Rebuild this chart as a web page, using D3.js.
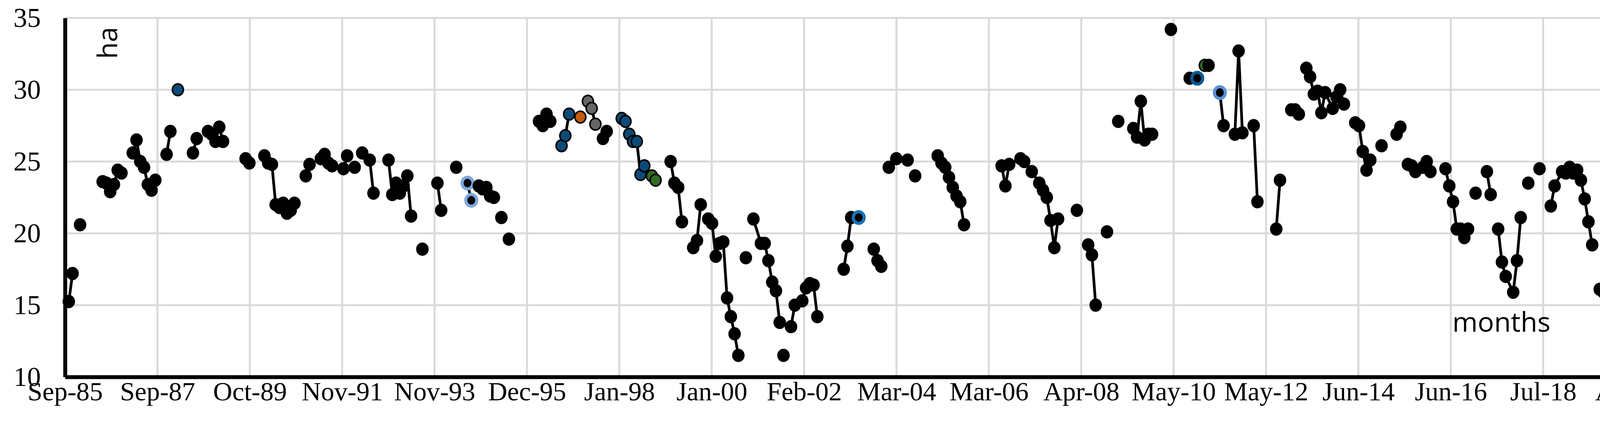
<!DOCTYPE html>
<html><head><meta charset="utf-8">
<script src="https://cdn.jsdelivr.net/npm/d3@7"></script>
<style>html,body{margin:0;padding:0;background:#fff;overflow:hidden;width:4306px;height:1102px}svg{display:block}</style></head>
<body><svg id="c" width="4306" height="1102"></svg>
<script>
const tickLabels=["Sep-85","Sep-87","Oct-89","Nov-91","Nov-93","Dec-95","Jan-98","Jan-00","Feb-02","Mar-04","Mar-06","Apr-08","May-10","May-12","Jun-14","Jun-16","Jul-18","Aug-20"];
const tickMonths=[0,24.56,49.12,73.68,98.24,122.8,147.36,171.92,196.48,221.04,245.6,270.16,294.72,319.28,343.84,368.4,392.96,417.52];
const yTicks=[10,15,20,25,30,35];
// month index since Sep-85
const months=[1,2,4,10,11,12,13,14,15,18,19,20,21,22,23,24,27,28,30,34,35,38,39,40,41,42,48,49,
53,54,55,56,57,58,59,60,61,64,65,68,69,70,71,74,75,77,79,81,82,86,87,88,89,90,91,92,95,99,100,104,107,108,
110,111,112,113,114,116,118,126,127,128,129,132,133,134,137,139,140,141,143,144,148,149,150,151,152,153,154,156,157,
161,162,163,164,167,168,169,171,172,173,174,175,176,177,178,179,181,183,185,186,187,188,189,190,191,
193,194,196,197,198,199,200,207,208,209,211,215,216,217,219,221,224,226,
232,233,234,235,236,237,238,239,249,250,251,254,255,257,259,260,261,262,263,264,269,272,273,274,277,280,
284,285,286,287,288,289,294,299,301,303,304,307,308,311,312,313,316,317,322,323,326,327,328,
330,331,332,333,334,335,337,338,339,340,343,344,345,346,347,350,354,355,357,358,359,361,362,363,
367,368,369,370,371,372,373,375,378,379,381,382,383,385,386,387,389,392,
395,396,398,399,400,401,402,403,404,405,406,408,409,410,411,412,413,414,415,416,417];
const values=[15.25,17.2,20.6,23.6,23.5,22.9,23.4,24.4,24.2,25.6,26.5,25.0,24.6,23.4,23.0,23.7,25.5,27.1,30.0,25.6,26.6,27.1,26.9,26.4,27.4,26.4,25.2,24.9,
25.4,24.9,24.8,22.0,21.8,22.1,21.4,21.6,22.1,24.0,24.8,25.2,25.5,24.9,24.7,24.5,25.4,24.6,25.6,25.1,22.8,25.1,22.7,23.5,22.8,23.3,24.0,21.2,18.9,23.5,21.6,24.6,23.5,22.3,
23.3,23.1,23.2,22.6,22.5,21.1,19.6,27.8,27.5,28.3,27.8,26.1,26.8,28.3,28.1,29.2,28.7,27.6,26.6,27.1,28.0,27.8,26.9,26.4,26.4,24.1,24.7,24.0,23.7,
25.0,23.5,23.2,20.8,19.0,19.5,22.0,21.0,20.7,18.4,19.3,19.4,15.5,14.2,13.0,11.5,18.3,21.0,19.3,19.3,18.1,16.6,16.0,13.8,11.5,
13.5,15.0,15.3,16.2,16.5,16.4,14.2,17.5,19.1,21.1,21.1,18.9,18.1,17.7,24.6,25.2,25.1,24.0,
25.4,24.9,24.6,23.9,23.2,22.6,22.2,20.6,24.7,23.3,24.8,25.2,25.0,24.3,23.5,23.0,22.5,20.9,19.0,21.0,21.6,19.2,18.5,15.0,20.1,27.8,
27.3,26.7,29.2,26.5,26.9,26.9,34.2,30.8,30.8,31.7,31.7,29.8,27.5,26.9,32.7,27.0,27.5,22.2,20.3,23.7,28.6,28.6,28.3,
31.5,30.9,29.7,29.9,28.4,29.8,28.7,29.5,30.0,29.0,27.7,27.5,25.7,24.4,25.1,26.1,26.9,27.4,24.8,24.7,24.3,24.6,25.0,24.3,
24.5,23.3,22.2,20.3,20.3,19.7,20.3,22.8,24.3,22.7,20.3,18.0,17.0,15.9,18.1,21.1,23.5,24.5,
21.9,23.3,24.3,24.2,24.6,24.2,24.4,23.7,22.4,20.8,19.2,16.1,15.9,19.2,19.7,16.8,18.4,17.7,17.7,13.3,11.6];
// months where a new line segment begins even though a point precedes it
const lineBreaks=[4,10,18,27,30,34,38,48,53,64,68,74,77,79,81,86,95,99,104,107,110,116,118,126,132,137,139,143,148,156,
161,167,171,181,183,191,193,207,211,215,219,221,224,226,232,249,269,272,277,280,284,294,299,301,303,307,311,316,322,326,330,343,350,354,357,367,375,378,381,389,392,395,408];
const specialMonths=[30,132,133,134,137,139,140,141,148,149,150,151,152,153,154,156,157,107,108,211,301,303,307];
const specialFill=["#0b4a78","#0b4a78","#0b4a78","#0b4a78","#c55a11","#666666","#666666","#666666","#0b4a78","#0b4a78","#0b4a78","#0b4a78","#0b4a78","#0b4a78","#0b4a78","#2f6b23","#2f6b23","#000","#000","#000","#000","#2f6b23","#000"];
const specialStroke=["#000","#000","#000","#000","#000","#000","#000","#000","#000","#000","#000","#000","#000","#000","#000","#000","#000","#7fa8dc","#7fa8dc","#1a73b8","#0b5a91","#000","#5b8fd6"];

const svg=d3.select("#c");
const x=d3.scaleLinear().domain([0,422.3]).range([166.5,4233]);
const y=d3.scaleLinear().domain([10,35]).range([966,46]);
svg.append("g").selectAll("line").data(yTicks.filter(v=>v>10)).join("line")
 .attr("x1",x(0)).attr("x2",x(422.3)).attr("y1",d=>y(d)).attr("y2",d=>y(d)).attr("stroke","#d9d9d9").attr("stroke-width",5);
svg.append("g").selectAll("line").data(tickMonths.slice(1)).join("line")
 .attr("x1",d=>x(d)).attr("x2",d=>x(d)).attr("y1",y(35)).attr("y2",y(10)).attr("stroke","#d9d9d9").attr("stroke-width",5);
const xa=svg.append("g").attr("transform",`translate(0,${y(10)})`).call(d3.axisBottom(x).tickValues(tickMonths).tickFormat((d,i)=>tickLabels[i]).tickSize(0).tickPadding(50));
xa.select(".domain").attr("stroke","#000").attr("stroke-width",10);
xa.selectAll("text").attr("font-family","Liberation Serif").attr("font-size",68).attr("fill","#000").attr("dy","0.15em");
const ya=svg.append("g").attr("transform",`translate(${x(0)},0)`).call(d3.axisLeft(y).tickValues(yTicks).tickSize(0).tickPadding(62));
ya.select(".domain").attr("stroke","#000").attr("stroke-width",10);
ya.selectAll("text").attr("font-family","Liberation Serif").attr("font-size",70).attr("fill","#000");
const pts=months.map((m,i)=>({m,v:values[i]}));
const segs=[];let cur=[];
pts.forEach(p=>{ if(cur.length && lineBreaks.includes(p.m)){segs.push(cur);cur=[];} cur.push(p);});
segs.push(cur);
const line=d3.line().x(d=>x(d.m)).y(d=>y(d.v));
svg.append("g").selectAll("path").data(segs.filter(s=>s.length>1)).join("path")
 .attr("d",line).attr("fill","none").attr("stroke","#000").attr("stroke-width",7);
svg.append("g").selectAll("ellipse").data(pts).join("ellipse")
 .attr("cx",d=>x(d.m)).attr("cy",d=>y(d.v)).attr("rx",14).attr("ry",15)
 .attr("fill",d=>{const k=specialMonths.indexOf(d.m);return k<0?"#000":specialFill[k];})
 .attr("stroke",d=>{const k=specialMonths.indexOf(d.m);return k<0?"#000":specialStroke[k];})
 .attr("stroke-width",d=>{const k=specialMonths.indexOf(d.m);return k>=0&&specialStroke[k]!="#000"?8:4;});
svg.append("text").attr("transform","translate(300,110) rotate(-90)").attr("text-anchor","middle")
 .attr("font-family","Open Sans").attr("font-size",70).text("ha");
svg.append("text").attr("x",3718).attr("y",850).attr("font-family","Open Sans").attr("font-size",70).text("months");
</script></body></html>
